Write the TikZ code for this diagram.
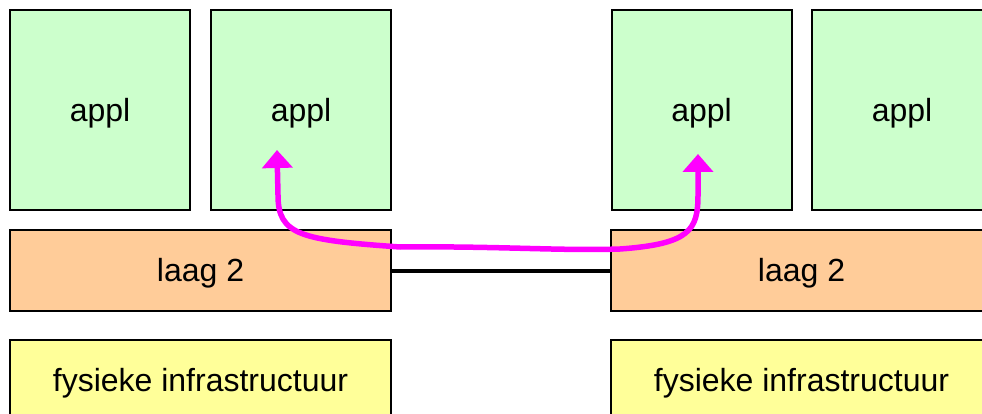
\documentclass[tikz,border=0pt]{standalone}
\usepackage{fontspec}
\setmainfont{Liberation Sans}
\usetikzlibrary{arrows.meta}
\definecolor{applgreen}{HTML}{CCFFCC}
\definecolor{laagorange}{HTML}{FFCC99}
\definecolor{fysyellow}{HTML}{FFFF99}
\definecolor{magentaline}{HTML}{FF00FF}
\tikzset{
  box/.style={draw=black, line width=2pt, inner sep=0pt, text height=29.5pt, text depth=7pt,
    font=\fontsize{32}{38}\selectfont},
  applbox/.style={box, fill=applgreen, minimum width=180pt, minimum height=200pt},
  laagbox/.style={box, fill=laagorange, minimum width=381pt, minimum height=81pt},
  fysbox/.style={box, fill=fysyellow, minimum width=381pt, minimum height=81pt},
  link/.style={line width=4pt, black},
  flow/.style={line width=5.5pt, magentaline, line cap=round, line join=round,
    {Triangle[length=18pt,width=30pt]}-{Triangle[length=18pt,width=30pt]}}
}
\begin{document}
\begin{tikzpicture}[x=1pt,y=-1pt]
\useasboundingbox (0,0) rectangle (982,414);
\node[applbox] (a1) at (100,110) {appl};
\node[applbox] (a2) at (301,110) {appl};
\node[applbox] (a3) at (701.5,110) {appl};
\node[applbox] (a4) at (902,110) {appl};
\node[laagbox] (l1) at (200.5,270.5) {laag 2};
\node[laagbox] (l2) at (801.5,270.5) {laag 2};
\node[fysbox] (f1) at (200.5,380.5) {fysieke infrastructuur};
\node[fysbox] (f2) at (801.5,380.5) {fysieke infrastructuur};
\draw[link] (l1.east) -- (l2.west);
\coordinate (p1) at (277,150);
\coordinate (p2) at (698,154);
\draw[flow] (p1) -- (278,195) .. controls (278,235) and (300,240) .. (400,247)
  .. controls (500,246) and (560,251) .. (620,249)
  .. controls (690,244) and (698,230) .. (698,195) -- (p2);
\end{tikzpicture}
\end{document}
